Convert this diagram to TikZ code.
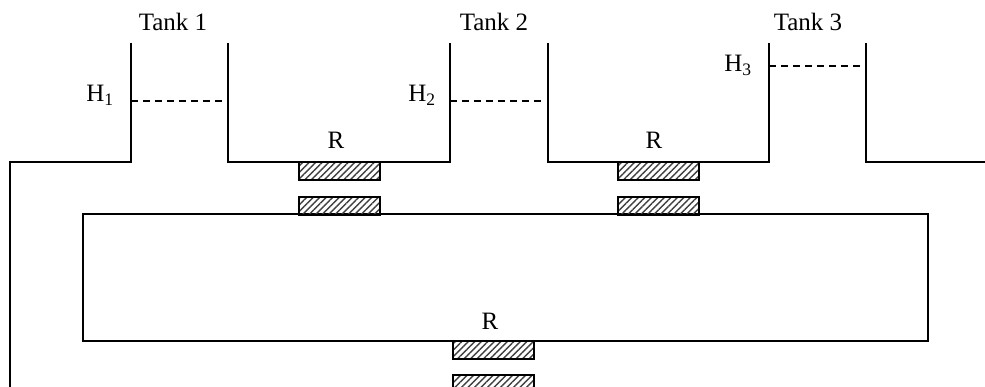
\documentclass[tikz,border=0pt]{standalone}
\usepackage{fontspec}
\setmainfont{Liberation Serif}
\usepackage{tikz}
\usetikzlibrary{patterns.meta}
\def\Restrictor#1#2{%
 \draw[restrictor] (#1,#2) rectangle +(81,18);
}
\def\Label#1#2#3#4{%
 \node[label text] (#1) at (#2,#3) {#4};
}
\def\Level#1#2#3{%
 \draw[level line] (#1,#3) -- (#2,#3);
}
\begin{document}
\begin{tikzpicture}[x=1pt, y=-1pt,
    wall/.style={draw=black, line width=2pt, line join=miter},
    restrictor/.style={draw=black, line width=1.8pt,
        pattern={Lines[angle=45,distance=4.6pt,line width=1.4pt]},
        pattern color=black!75},
    level line/.style={draw=black, line width=1.5pt, dash pattern=on 7pt off 5pt},
    label text/.style={anchor=base, inner sep=0pt, font=\fontsize{25}{30}\selectfont}
    ]
\useasboundingbox (0,0) rectangle (985,387);
% tanks and pipe run
\draw[wall] (10,392) -- (10,162) -- (131,162) -- (131,43);
\draw[wall] (228,43) -- (228,162) -- (450,162) -- (450,43);
\draw[wall] (548,43) -- (548,162) -- (769,162) -- (769,43);
\draw[wall] (866,43) -- (866,162) -- (990,162);
\draw[wall] (83,214) rectangle (928,341);
% restrictors
\Restrictor{299}{162}
\Restrictor{299}{197}
\Restrictor{618}{162}
\Restrictor{618}{197}
\Restrictor{453}{341}
\Restrictor{453}{375}
% levels
\Level{131}{222}{101}
\Level{450}{541}{101}
\Level{769}{860}{66}
% labels
\Label{tank1}{173}{31}{Tank 1}
\Label{tank2}{494}{31}{Tank 2}
\Label{tank3}{808}{31}{Tank 3}
\Label{h1}{100}{102}{H\textsubscript{1}}
\Label{h2}{422}{102}{H\textsubscript{2}}
\Label{h3}{738}{72}{H\textsubscript{3}}
\Label{r1}{336}{149}{R}
\Label{r2}{654}{149}{R}
\Label{r3}{490}{329}{R}
\end{tikzpicture}
\end{document}
